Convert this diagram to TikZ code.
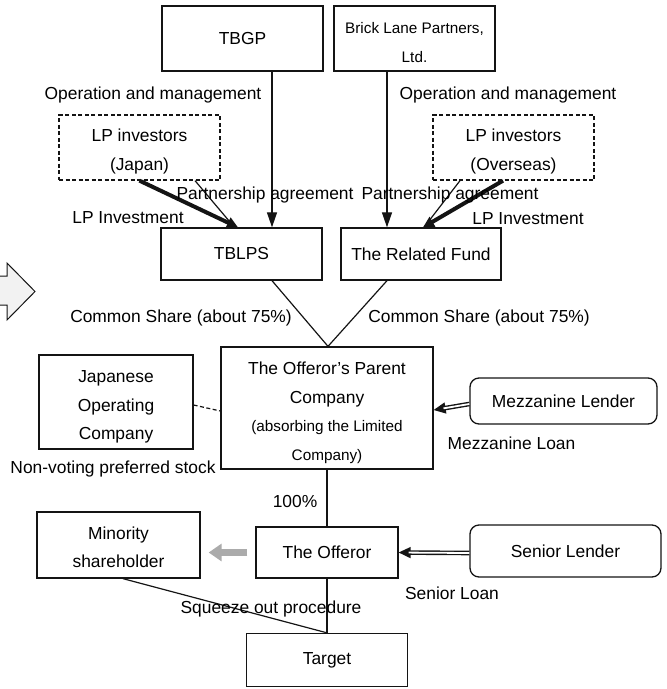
\documentclass[tikz,border=0pt]{standalone}
\usepackage{fontspec}
\setmainfont{Liberation Sans}
\usepackage{xcolor}
\definecolor{trait}{HTML}{141414}
\definecolor{grisfleche}{HTML}{ABABAB}
\definecolor{grisclair}{HTML}{F2F2F2}
\usepackage{tikz}
\usetikzlibrary{arrows.meta}
\newcommand{\grand}{\fontsize{17.4}{28.5}\selectfont}
\newcommand{\petit}{\fontsize{15.3}{28.5}\selectfont}
\newcommand{\haut}[1]{\rule{0pt}{#1}}

\begin{document}
\begin{tikzpicture}[x=1pt,y=-1pt,
  every node/.style={font=\grand,text=black},
  ent/.style={draw=trait,line width=1.3pt,align=center,inner sep=0pt},
  entd/.style={ent,dashed,dash pattern=on 4pt off 2.5pt},
  entr/.style={ent,rounded corners=9pt},
  fl/.style={-{Triangle[length=15pt,width=10pt]},trait,line width=1.2pt},
  lien/.style={trait,line width=1.2pt},
  inv/.style={-{Triangle[length=11pt,width=11pt]},trait,line width=4pt},
  dbl/.style={-{Triangle[length=12pt,width=11pt]},trait,line width=1.4pt,
    postaction={draw,-,double=white,double distance=1.8pt,line width=1.4pt,shorten >=10pt}},
  grisfl/.style={-{Triangle[length=13pt,width=17pt]},grisfleche,line width=7pt}
]
\useasboundingbox (0,0) rectangle (667,689);
\fill[grisclair] (0,276) -- (7,276) -- (7,263) -- (35,291.5) -- (7,320) -- (7,305) -- (0,305) -- cycle;
\draw[trait,line width=1pt] (0,276) -- (7,276) -- (7,263) -- (35,291.5) -- (7,320) -- (7,305) -- (0,305);

\node[ent,minimum width=161pt,minimum height=65pt] (tbgp) at (242.5,38.5) {TBGP};
\node[ent,minimum width=161pt,minimum height=65pt,font=\petit] (brick) at (414.5,38.5) {\haut{19pt}Brick Lane Partners,\\Ltd.};
\node[entd,minimum width=161pt,minimum height=65pt] (lpjp) at (139.5,147.5) {\haut{21pt}LP investors\\(Japan)};
\node[entd,minimum width=161pt,minimum height=65pt] (lpov) at (513.5,147.5) {\haut{21pt}LP investors\\(Overseas)};
\node[ent,minimum width=161pt,minimum height=52pt] (tblps) at (241.5,254) {TBLPS};
\node[ent,minimum width=160pt,minimum height=52pt] (fund) at (421,254) {The Related Fund};
\node[ent,minimum width=212pt,minimum height=122pt] (parent) at (327,408)
  {\haut{22pt}The Offeror’s Parent\\Company\\{\petit (absorbing the Limited}\\{\petit Company)}};
\node[ent,minimum width=154pt,minimum height=94pt] (jop) at (116,402) {\haut{22pt}Japanese\\Operating\\Company};
\node[entr,minimum width=187pt,minimum height=46pt] (mezz) at (563.5,401) {Mezzanine Lender};
\node[ent,minimum width=163pt,minimum height=66pt] (minor) at (118.5,545) {\haut{17pt}Minority\\shareholder};
\node[ent,minimum width=142pt,minimum height=51pt] (offeror) at (327,552.5) {The Offeror};
\node[entr,minimum width=191pt,minimum height=52pt] (senior) at (565.5,551) {Senior Lender};
\node[ent,minimum width=161pt,minimum height=53pt] (target) at (327,660) {Target};

\draw[fl] ([xshift=29.5pt]tbgp.south) -- ([xshift=30.5pt]tblps.north);
\draw[fl] ([xshift=-27.5pt]brick.south) -- ([xshift=-34pt]fund.north);
\draw[inv] (lpjp.south) -- ([xshift=-3.5pt]tblps.north);
\draw[lien] ([xshift=55.5pt]lpjp.south) -- ([xshift=-7pt]tblps.north);
\draw[inv] ([xshift=-10.5pt]lpov.south) -- ([xshift=2pt]fund.north);
\draw[lien] ([xshift=-53.5pt]lpov.south) -- ([xshift=3pt]fund.north);
\draw[lien] ([xshift=30.5pt]tblps.south) -- ([xshift=1pt]parent.north);
\draw[lien] ([xshift=-34pt]fund.south) -- ([xshift=1pt]parent.north);
\draw[lien,dashed,dash pattern=on 4pt off 2.5pt] ([yshift=-3pt]jop.east) -- ([yshift=-3pt]parent.west);
\draw[dbl] ([yshift=-3pt]mezz.west) -- ([yshift=-2pt]parent.east);
\draw[lien] (parent.south) -- (offeror.north);
\draw[lien] (offeror.south) -- (target.north);
\draw[dbl] ([yshift=-2pt]senior.west) -- (offeror.east);
\draw[grisfl] ([xshift=-8pt]offeror.west) -- ([xshift=8pt]minor.east |- offeror.west);
\draw[lien] ([xshift=4.5pt]minor.south) -- (target.north);

\node (om1) at (153,95) {Operation and management};
\node (om2) at (508,95) {Operation and management};
\node (pa1) at (265,194.5) {Partnership agreement};
\node (pa2) at (450,194.5) {Partnership agreement};
\node (li1) at (128,217.5) {LP Investment};
\node (li2) at (528,218.5) {LP Investment};
\node (cs1) at (181,318) {Common Share (about 75\%)};
\node (cs2) at (479,318) {Common Share (about 75\%)};
\node (nv) at (113,469) {Non-voting preferred stock};
\node (ml) at (511.5,443.5) {Mezzanine Loan};
\node (pc) at (295,502) {100\%};
\node (sl) at (452,593.5) {Senior Loan};
\node (sq) at (271,609) {Squeeze out procedure};
\end{tikzpicture}
\end{document}
